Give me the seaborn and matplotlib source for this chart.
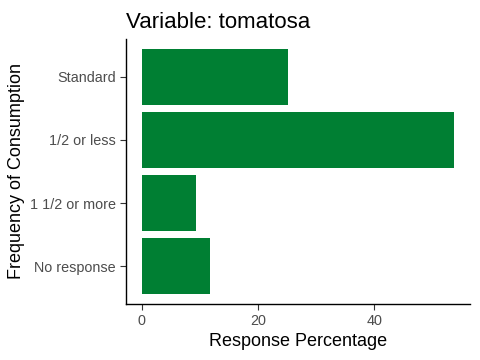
import pandas as pd
import seaborn as sns
import matplotlib.pyplot as plt

categories = ['Standard', '1/2 or less', '1 1/2 or more', 'No response']
percentages = [25.2, 53.7, 9.4, 11.8]

df = pd.DataFrame({'Frequency': categories, 'Percentage': percentages})

sns.set_style('ticks')
plt.rcParams['font.family'] = ['Liberation Sans', 'DejaVu Sans']

fig = plt.figure(figsize=(4.8, 3.6), dpi=100)
ax = fig.add_axes([0.2625, 0.1556, 0.7165, 0.7361])

sns.barplot(data=df, y='Frequency', x='Percentage', order=categories,
            color='#007F33', saturation=1, width=0.89, linewidth=0, ax=ax)

ax.set_xlim(-2.69, 56.4)
ax.set_ylim(3.6, -0.6)
ax.set_xticks([0, 20, 40])
ax.set_title('Variable: tomatosa', loc='left', fontsize=16, pad=8, color='black')
ax.set_xlabel('Response Percentage', fontsize=13, color='black', labelpad=3)
ax.set_ylabel('Frequency of Consumption', fontsize=13, color='black', labelpad=3)
ax.tick_params(axis='both', labelsize=10.4, labelcolor='#4D4D4D', color='#333333',
               length=4, width=0.8)
for side in ['top', 'right']:
    ax.spines[side].set_visible(False)
for side in ['left', 'bottom']:
    ax.spines[side].set_color('black')
    ax.spines[side].set_linewidth(1.0)

fig.savefig('out.png', dpi=100)
